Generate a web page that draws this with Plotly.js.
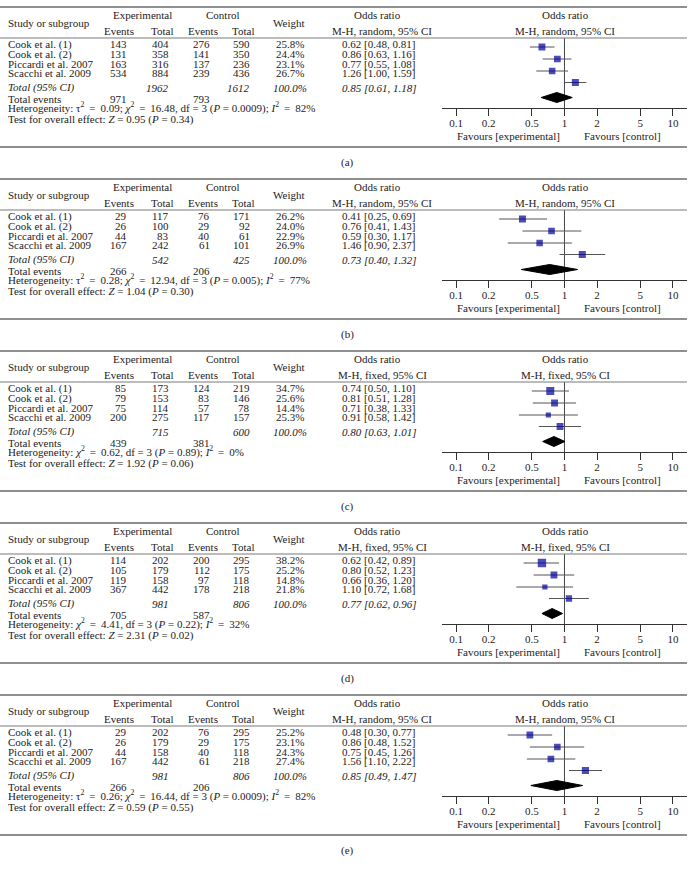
<!DOCTYPE html>
<html>
<head>
<meta charset="utf-8">
<script src="https://cdn.plot.ly/plotly-3.0.1.min.js"></script>
<style>
  html, body { margin: 0; padding: 0; background: #fff; }
  #plotDiv { width: 695px; height: 869px; }
</style>
</head>
<body>
<div id="plotDiv"></div>
<script>
// Study data
const studies = ["Cook et al. (1)", "Cook et al. (2)", "Piccardi et al. 2007", "Scacchi et al. 2009"];
const panelLabels = ["(a)", "(b)", "(c)", "(d)", "(e)"];
const methods = ["random", "random", "fixed", "fixed", "random"];

const expEvents = [[143, 131, 163, 534], [29, 26, 44, 167], [85, 79, 75, 200], [114, 105, 119, 367], [29, 26, 44, 167]];
const expTotals = [[404, 358, 316, 884], [117, 100, 83, 242], [173, 153, 114, 275], [202, 179, 158, 442], [202, 179, 158, 442]];
const ctrlEvents = [[276, 141, 137, 239], [76, 29, 40, 61], [124, 83, 57, 117], [200, 112, 97, 178], [76, 29, 40, 61]];
const ctrlTotals = [[590, 350, 236, 436], [171, 92, 61, 101], [219, 146, 78, 157], [295, 175, 118, 218], [295, 175, 118, 218]];
const weights = [[25.8, 24.4, 23.1, 26.7], [26.2, 24.0, 22.9, 26.9], [34.7, 25.6, 14.4, 25.3], [38.2, 25.2, 14.8, 21.8], [25.2, 23.1, 24.3, 27.4]];
const oddsRatios = [[0.62, 0.86, 0.77, 1.26], [0.41, 0.76, 0.59, 1.46], [0.74, 0.81, 0.71, 0.91], [0.62, 0.80, 0.66, 1.10], [0.48, 0.86, 0.75, 1.56]];
const ciLower = [[0.48, 0.63, 0.55, 1.00], [0.25, 0.41, 0.30, 0.90], [0.50, 0.51, 0.38, 0.58], [0.42, 0.52, 0.36, 0.72], [0.30, 0.48, 0.45, 1.10]];
const ciUpper = [[0.81, 1.16, 1.08, 1.59], [0.69, 1.43, 1.17, 2.37], [1.10, 1.28, 1.33, 1.42], [0.89, 1.23, 1.20, 1.68], [0.77, 1.52, 1.26, 2.22]];

const totalExp = [1962, 542, 715, 981, 981];
const totalCtrl = [1612, 425, 600, 806, 806];
const totalEventsExp = [971, 266, 439, 705, 266];
const totalEventsCtrl = [793, 206, 381, 587, 206];
const pooledOR = [0.85, 0.73, 0.80, 0.77, 0.85];
const pooledLower = [0.61, 0.40, 0.63, 0.62, 0.49];
const pooledUpper = [1.18, 1.32, 1.01, 0.96, 1.47];

const tau2 = ["0.09", "0.28", null, null, "0.26"];
const chi2 = ["16.48", "12.94", "0.62", "4.41", "16.44"];
const hetP = ["0.0009", "0.005", "0.89", "0.22", "0.0009"];
const iSquared = ["82", "77", "0", "32", "82"];
const zValues = ["0.95", "1.04", "1.92", "2.31", "0.59"];
const zP = ["0.34", "0.30", "0.06", "0.02", "0.55"];

const tickValues = [0.1, 0.2, 0.5, 1, 2, 5, 10];
const tickLabels = ["0.1", "0.2", "0.5", "1", "2", "5", "10"];

// Page geometry (pixels)
const W = 695;
const H = 869;
const panelTop0 = 7;
const panelPitch = 172;
const rowOffsets = [9, 21, 33, 44.5]; // marker rows below header rule
const diamondOffset = 59.5;
const plotLeft = 441.7;
const plotRight = 686.7;
const ruleRight = 687;

const FONT = "Liberation Serif, Times New Roman, serif";
const TEXT = "#1e1b1c";

let traces = [];
let shapes = [];
let annotations = [];
let layout = {
  width: W,
  height: H,
  margin: { l: 0, r: 0, t: 0, b: 0 },
  paper_bgcolor: "#fff",
  plot_bgcolor: "rgba(0,0,0,0)",
  showlegend: false,
  font: { family: FONT, size: 11, color: TEXT },
  xaxis: { range: [0, W], domain: [0, 1], visible: false, fixedrange: true },
  yaxis: { range: [H, 0], domain: [0, 1], visible: false, fixedrange: true },
};

/**
 * Add a text label in page pixel coordinates
 */
function addText(x, y, text, anchor, size) {
  annotations.push({
    x: x,
    y: y,
    xref: "x",
    yref: "y",
    text: text,
    showarrow: false,
    borderpad: 0,
    xanchor: anchor || "left",
    yanchor: "middle",
    font: { family: FONT, size: size || 11, color: TEXT },
  });
}

function addRule(y, width, color) {
  shapes.push({
    type: "line",
    xref: "x",
    yref: "y",
    x0: 0,
    x1: ruleRight,
    y0: y,
    y1: y,
    line: { color: color, width: width },
  });
}

for (let p = 0; p < 5; p++) {
  const top = panelTop0 + p * panelPitch;
  const method = methods[p];
  const xKey = "xaxis" + (p + 2);
  const yKey = "yaxis" + (p + 2);
  const xRef = "x" + (p + 2);
  const yRef = "y" + (p + 2);

  // Rules
  addRule(top, 1.7, "#6a6a6a");
  addRule(top + 31, 1.2, "#7a7a7a");
  addRule(top + 140, 1.7, "#6a6a6a");

  // Header
  addText(142, top + 8, "Experimental", "center");
  addText(223, top + 8, "Control", "center");
  addText(7, top + 16, "Study or subgroup", "left");
  addText(119, top + 24, "Events", "center");
  addText(162, top + 24, "Total", "center");
  addText(203, top + 24, "Events", "center");
  addText(243, top + 24, "Total", "center");
  addText(289, top + 16, "Weight", "center");
  addText(377, top + 8, "Odds ratio", "center");
  addText(382, top + 24, "M-H, " + method + ", 95% CI", "center");
  addText(565, top + 8, "Odds ratio", "center");
  addText(565, top + 24, "M-H, " + method + ", 95% CI", "center");

  // Study rows
  const textRows = [37, 47, 56.5, 66];
  for (let i = 0; i < studies.length; i++) {
    const y = top + textRows[i];
    addText(7, y, studies[i], "left");
    addText(128, y, String(expEvents[p][i]), "right");
    addText(170, y, String(expTotals[p][i]), "right");
    addText(211, y, String(ctrlEvents[p][i]), "right");
    addText(251, y, String(ctrlTotals[p][i]), "right");
    addText(290, y, weights[p][i].toFixed(1) + "%", "center");
    addText(341, y,
      oddsRatios[p][i].toFixed(2) + " [" + ciLower[p][i].toFixed(2) + ", " + ciUpper[p][i].toFixed(2) + "]",
      "left");
  }

  // Totals
  let yt = top + 80.5;
  addText(7, yt, "<i>Total (95% CI)</i>", "left");
  addText(170, yt, "<i>" + totalExp[p] + "</i>", "right");
  addText(251, yt, "<i>" + totalCtrl[p] + "</i>", "right");
  addText(290, yt, "<i>100.0%</i>", "center");
  addText(341, yt,
    "<i>" + pooledOR[p].toFixed(2) + " [" + pooledLower[p].toFixed(2) + ", " + pooledUpper[p].toFixed(2) + "]</i>",
    "left");
  addText(7, top + 91.5, "Total events", "left");
  addText(128, top + 91.5, String(totalEventsExp[p]), "right");
  addText(211, top + 91.5, String(totalEventsCtrl[p]), "right");

  // Statistics lines (math spacing is a bit wider in the source)
  const eq = "\u2009= \u2009";
  let het = "Heterogeneity: ";
  if (tau2[p] !== null) het += "τ<sup>2</sup> " + eq + tau2[p] + "; ";
  het += "<i>χ</i><sup>2</sup> " + eq + chi2[p] + ", df = 3 (<i>P</i> = " + hetP[p] + "); <i>I</i><sup>2</sup> " + eq + iSquared[p] + "%";
  addText(7, top + 100.8, het, "left");
  addText(7, top + 112.5, "Test for overall effect: <i>Z</i> = " + zValues[p] + " (<i>P</i> = " + zP[p] + ")", "left");

  addText(508, top + 129, "Favours [experimental]", "center");
  addText(622, top + 129, "Favours [control]", "center");
  addText(347, top + 155, panelLabels[p], "center");

  // Forest plot axes
  layout[xKey] = {
    type: "log",
    range: [Math.log10(0.0738), Math.log10(13.4)],
    domain: [plotLeft / W, plotRight / W],
    anchor: yRef,
    tickvals: tickValues,
    ticktext: tickLabels,
    ticks: "outside",
    ticklen: 7,
    tickwidth: 1,
    tickcolor: "#333",
    ticklabelstandoff: -2,
    showline: true,
    linecolor: "#333",
    linewidth: 1,
    showgrid: false,
    zeroline: false,
    tickfont: { family: FONT, size: 11, color: TEXT },
    fixedrange: true,
  };
  layout[yKey] = {
    range: [70, 0],
    domain: [1 - (top + 101) / H, 1 - (top + 31) / H],
    anchor: xRef,
    visible: false,
    fixedrange: true,
  };

  // Line of no effect
  traces.push({
    x: [1, 1],
    y: [0, 70],
    xaxis: xRef,
    yaxis: yRef,
    mode: "lines",
    line: { color: "#444", width: 1 },
    hoverinfo: "skip",
  });

  // Confidence intervals
  let ciX = [];
  let ciY = [];
  for (let i = 0; i < studies.length; i++) {
    ciX.push(ciLower[p][i], ciUpper[p][i], null);
    ciY.push(rowOffsets[i], rowOffsets[i], null);
  }
  traces.push({
    x: ciX,
    y: ciY,
    xaxis: xRef,
    yaxis: yRef,
    mode: "lines",
    line: { color: "#555", width: 1 },
    hoverinfo: "skip",
  });

  // Study squares, area proportional to weight
  traces.push({
    x: oddsRatios[p],
    y: rowOffsets,
    xaxis: xRef,
    yaxis: yRef,
    mode: "markers",
    marker: {
      symbol: "square",
      color: "#00009a",
      size: weights[p].map((w) => 1.36 * Math.sqrt(w)),
      line: { width: 0 },
    },
    hoverinfo: "skip",
  });

  // Pooled diamond
  traces.push({
    x: [pooledLower[p], pooledOR[p], pooledUpper[p], pooledOR[p], pooledLower[p]],
    y: [diamondOffset, diamondOffset - 5, diamondOffset, diamondOffset + 5, diamondOffset],
    xaxis: xRef,
    yaxis: yRef,
    mode: "lines",
    fill: "toself",
    fillcolor: "#000",
    line: { color: "#000", width: 1 },
    hoverinfo: "skip",
  });
}

layout.shapes = shapes;
layout.annotations = annotations;

Plotly.newPlot("plotDiv", traces, layout, { displayModeBar: false, staticPlot: true });
</script>
</body>
</html>
